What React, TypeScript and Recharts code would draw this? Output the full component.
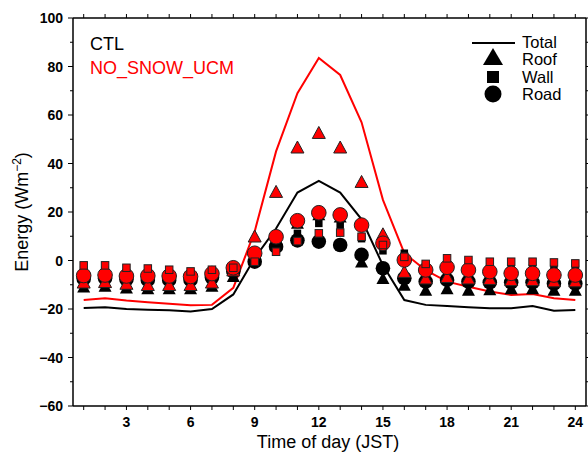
import React from 'react';
import { ComposedChart, Line, Scatter, XAxis, YAxis } from 'recharts';

const hours = [1, 2, 3, 4, 5, 6, 7, 8, 9, 10, 11, 12, 13, 14, 15, 16, 17, 18, 19, 20, 21, 22, 23, 24];
const xLabelTicks = [3, 6, 9, 12, 15, 18, 21, 24];
const yTicks = [-60, -50, -40, -30, -20, -10, 0, 10, 20, 30, 40, 50, 60, 70, 80, 90, 100];
const yLabelTicks = [-60, -40, -20, 0, 20, 40, 60, 80, 100];

const ctlTotal = [-19.6, -19.3, -20, -20.3, -20.5, -21, -20, -14, 1, 13.2, 28, 32.8, 28, 17, -2, -16.3, -18.3, -18.8, -19.3, -19.7, -19.7, -18.8, -20.7, -20.4];
const nsTotal = [-16.3, -15.6, -16.5, -17.2, -17.8, -18.5, -18.3, -11.3, 12, 45, 69, 83.5, 76.5, 57, 25, 3, -4, -8.7, -10.8, -12.8, -14.2, -13.8, -15.6, -16.3];

const ctlRoof = [-10.8, -10.5, -11.2, -11.5, -11.5, -11.5, -10.5, -6.5, 1, 9, 15.5, 19, 18, -0.5, -7.3, -10.1, -12.2, -11.5, -12.2, -12, -11.5, -11.5, -12.2, -12.2];
const ctlWall = [-4, -4, -5, -5, -5.5, -6, -5, -4, 1.5, 8, 11.2, 15.3, 14.6, 9, 4, 3, -2, -1.5, -2, -2.5, -3, -3, -3.5, -3.5];
const ctlRoad = [-7.5, -7.3, -7.8, -8, -8, -8, -7, -4.5, -0.5, 5.7, 8.3, 7.8, 6.4, 2.3, -3.2, -7.3, -8.7, -8, -8.7, -9, -9, -9, -9.5, -9.5];
const nsRoof = [-9, -8.8, -9.5, -10, -10, -10, -9, -4, 10, 28.4, 46.7, 52.7, 46.7, 32.5, 10.9, -4.6, -7.3, -6.7, -7.3, -7.5, -8, -8, -8.5, -8.5];
const nsRoad = [-6.2, -6, -6.4, -6.3, -6.4, -6.6, -5.4, -3, 3, 9.8, 16.4, 19.7, 18.8, 14.6, 7.1, 0.2, -3.9, -2.8, -3.9, -4.6, -5.3, -5.3, -6, -6];
const nsWall = [-2, -2, -3, -3.3, -3.8, -4.5, -3.8, -3, -0.5, 3.6, 8, 11.2, 11.5, 9.8, 6.4, 1.5, -1.4, 0.9, 0.2, -0.5, -0.5, -0.5, -0.8, -1.2];

const rows = hours.map((h, i) => ({
  hour: h,
  ctlTotal: ctlTotal[i],
  nsTotal: nsTotal[i],
  ctlRoof: ctlRoof[i],
  ctlWall: ctlWall[i],
  ctlRoad: ctlRoad[i],
  nsRoof: nsRoof[i],
  nsWall: nsWall[i],
  nsRoad: nsRoad[i],
}));

const FONT = '"Liberation Sans", Arial, Helvetica, sans-serif';
const RED = '#ff0000';
const OUT = '#222';

const fmt = (v: number) => (v < 0 ? '\u2212' + Math.abs(v) : String(v));

function BottomTick(props: any) {
  const { x, y, payload } = props;
  const v = payload.value;
  const major = xLabelTicks.includes(v);
  return (
    <g>
      <line x1={x} x2={x} y1={y} y2={y + 4} stroke="#000" strokeWidth={1} />
      {major && (
        <text x={x} y={y + 21} textAnchor="middle" fontSize={14} fontWeight="bold" fontFamily={FONT} fill="#000">
          {v}
        </text>
      )}
    </g>
  );
}

function TopTick(props: any) {
  const { x, y } = props;
  return <line x1={x} x2={x} y1={y} y2={y - 4} stroke="#000" strokeWidth={1} />;
}

function LeftTick(props: any) {
  const { x, y, payload } = props;
  const v = payload.value;
  const major = yLabelTicks.includes(v);
  return (
    <g>
      <line x1={x} x2={x - (major ? 5 : 3)} y1={y} y2={y} stroke="#000" strokeWidth={1} />
      {major && (
        <text x={x - 10} y={y + 5} textAnchor="end" fontSize={14} fontWeight="bold" fontFamily={FONT} fill="#000">
          {fmt(v)}
        </text>
      )}
    </g>
  );
}

function RightTick(props: any) {
  const { x, y } = props;
  return <line x1={x} x2={x + 4} y1={y} y2={y} stroke="#000" strokeWidth={1} />;
}

const tri = (fill: string, stroke: string | undefined) => (p: any) => {
  const { cx, cy } = p;
  if (cx == null || cy == null) return <g />;
  const w = 13;
  const h = 11.5;
  return (
    <polygon
      points={`${cx},${cy - h / 2 - 0.5} ${cx - w / 2},${cy + h / 2} ${cx + w / 2},${cy + h / 2}`}
      fill={fill}
      stroke={stroke || 'none'}
      strokeWidth={1}
    />
  );
};
const sq = (fill: string, stroke: string | undefined) => (p: any) => {
  const { cx, cy } = p;
  if (cx == null || cy == null) return <g />;
  const s = 7.5;
  return <rect x={cx - s / 2} y={cy - s / 2} width={s} height={s} fill={fill} stroke={stroke || 'none'} strokeWidth={1} />;
};
const circ = (fill: string, stroke: string | undefined) => (p: any) => {
  const { cx, cy } = p;
  if (cx == null || cy == null) return <g />;
  return <circle cx={cx} cy={cy} r={7.3} fill={fill} stroke={stroke || 'none'} strokeWidth={1} />;
};

export default function App() {
  return (
    <div style={{ position: 'absolute', left: 0, top: 0, width: 588, height: 455, background: '#fff' }}>
      <ComposedChart width={588} height={455} data={rows} margin={{ top: 0, right: 0, bottom: 0, left: 0 }}>
        <XAxis
          dataKey="hour"
          type="number"
          domain={[0.5, 24.5]}
          ticks={hours}
          interval={0}
          height={49}
          tickSize={0}
          tickMargin={0}
          tickLine={false}
          tick={<BottomTick />}
          axisLine={{ stroke: '#000', strokeWidth: 1.5 }}
          allowDataOverflow
        />
        <XAxis
          xAxisId="top"
          orientation="top"
          dataKey="hour"
          type="number"
          domain={[0.5, 24.5]}
          ticks={hours}
          interval={0}
          height={18}
          tickSize={0}
          tickMargin={0}
          tickLine={false}
          tick={<TopTick />}
          axisLine={{ stroke: '#000', strokeWidth: 1.5 }}
          allowDataOverflow
        />
        <YAxis
          type="number"
          domain={[-60, 100]}
          ticks={yTicks}
          interval={0}
          width={73}
          tickSize={0}
          tickMargin={0}
          tickLine={false}
          tick={<LeftTick />}
          axisLine={{ stroke: '#000', strokeWidth: 1.5 }}
          allowDataOverflow
        />
        <YAxis
          yAxisId="right"
          orientation="right"
          type="number"
          domain={[-60, 100]}
          ticks={yTicks}
          interval={0}
          width={2}
          tickSize={0}
          tickMargin={0}
          tickLine={false}
          tick={<RightTick />}
          axisLine={{ stroke: '#000', strokeWidth: 1.5 }}
          allowDataOverflow
        />
        <Scatter dataKey="ctlRoof" shape={tri('#000', undefined)} isAnimationActive={false} />
        <Scatter dataKey="ctlRoad" shape={circ('#000', undefined)} isAnimationActive={false} />
        <Scatter dataKey="ctlWall" shape={sq('#000', undefined)} isAnimationActive={false} />
        <Line dataKey="ctlTotal" stroke="#000" strokeWidth={2} dot={false} isAnimationActive={false} />
        <Line dataKey="nsTotal" stroke={RED} strokeWidth={2} dot={false} isAnimationActive={false} />
        <Scatter dataKey="nsRoof" shape={tri(RED, OUT)} isAnimationActive={false} />
        <Scatter dataKey="nsRoad" shape={circ(RED, OUT)} isAnimationActive={false} />
        <Scatter dataKey="nsWall" shape={sq(RED, OUT)} isAnimationActive={false} />
      </ComposedChart>
      <svg
        width={588}
        height={455}
        style={{ position: 'absolute', left: 0, top: 0, pointerEvents: 'none' }}
        fontFamily={FONT}
      >
        <text x={90} y={50} fontSize={18} fill="#000">CTL</text>
        <text x={90} y={74} fontSize={18} fill={RED}>NO_SNOW_UCM</text>

        <line x1={472} x2={515} y1={43} y2={43} stroke="#000" strokeWidth={2} />
        <text x={522} y={48} fontSize={16.5} fill="#000">Total</text>
        <polygon points="493,48 483,65 503,65" fill="#000" />
        <text x={522} y={65} fontSize={16.5} fill="#000">Roof</text>
        <rect x={487} y={71} width={12} height={12} fill="#000" />
        <text x={522} y={83} fontSize={16.5} fill="#000">Wall</text>
        <circle cx={493} cy={94} r={8.5} fill="#000" />
        <text x={522} y={100} fontSize={16.5} fill="#000">Road</text>

        <text x={328} y={448} fontSize={18} textAnchor="middle" fill="#000">Time of day (JST)</text>
        <text transform="translate(28,212) rotate(-90)" x={0} y={0} fontSize={18} textAnchor="middle" fill="#000">
          Energy (Wm<tspan dy={-7} fontSize={12}>{'\u22122'}</tspan>
          <tspan dy={7}>)</tspan>
        </text>
      </svg>
    </div>
  );
}
